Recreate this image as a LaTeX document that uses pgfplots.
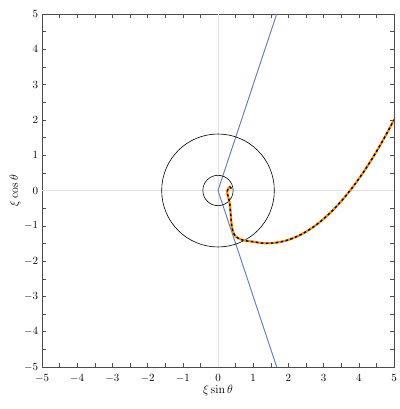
\documentclass[border=0pt]{standalone}
\usepackage{pgfplots}
\pgfplotsset{compat=1.18}
\definecolor{mblue}{RGB}{94,129,181}
\definecolor{morange}{RGB}{255,140,0}
\begin{document}
\begin{tikzpicture}
\pgfplotstableread{
x y
0.38 0.06
0.34 0.10
0.29 0.06
0.26 -0.05
0.29 -0.18
0.33 -0.35
0.35 -0.55
0.37 -0.78
0.39 -1.00
0.43 -1.18
0.50 -1.30
0.62 -1.375
0.77 -1.42
1.00 -1.452
1.25 -1.489
1.50 -1.492
1.75 -1.462
2.00 -1.398
2.25 -1.300
2.50 -1.168
2.75 -1.003
3.00 -0.804
3.25 -0.571
3.50 -0.304
3.75 -0.004
4.00 0.330
4.25 0.698
4.50 1.100
4.75 1.535
5.00 2.004
}\traj
\begin{axis}[
name=main,
scale only axis,
width=352pt, height=353pt,
xmin=-5, xmax=5, ymin=-5, ymax=5,
xtick={-5,...,5}, ytick={-5,...,5},
minor tick num=1,
tick align=inside,
tick style={black!70, thin},
major tick length=4pt, minor tick length=4pt,
axis line style={black!70},
xlabel={$\xi\sin\theta$},
ylabel={$\xi\cos\theta$},
tick label style={font=\fontsize{11}{13}\selectfont, inner sep=1pt},
label style={font=\fontsize{11.5}{13}\selectfont},
xticklabel style={yshift=-6.5pt},
yticklabel style={xshift=-2.7pt},
xlabel style={yshift=2pt},
ylabel style={yshift=-1pt},
]
% reference lines
\addplot[black!12, line width=0.9pt] coordinates {(-5,0) (5,0)};
\addplot[black!12, line width=0.9pt] coordinates {(0,-5) (0,5)};

% rays
\addplot[mblue, line width=0.95pt] coordinates {(1.667,5) (0,0) (1.667,-5)};

% circles
\draw[black, line width=0.6pt] (axis cs:0,0) circle[radius=1.6];
\draw[black, line width=0.6pt] (axis cs:0,0) circle[radius=0.43];

% trajectory
\addplot[morange, line width=2.2pt, smooth] table {\traj};
\addplot[black, line width=1.4pt, dash pattern=on 2.5pt off 2.5pt, smooth] table {\traj};
\end{axis}
\pgfresetboundingbox
\path ([shift={(-42pt,-42pt)}]main.south west) rectangle ([shift={(5pt,14pt)}]main.north east);
\end{tikzpicture}
\end{document}
